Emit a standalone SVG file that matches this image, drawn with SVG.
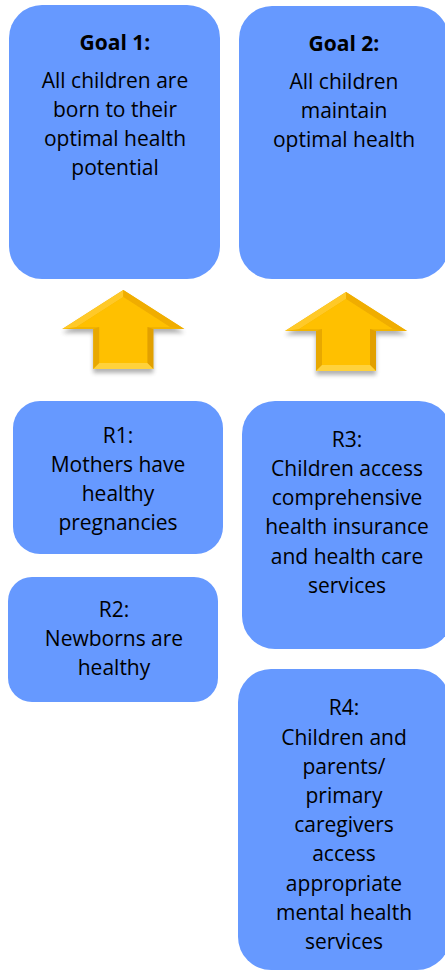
<svg xmlns="http://www.w3.org/2000/svg" width="445" height="972" viewBox="0 0 445 972">
  <style>
    .box { fill: #6699ff; }
    .t { font-family: "Open Sans", "Liberation Sans", sans-serif; font-size: 21px; fill: #000; text-anchor: middle; }
    .b { font-weight: bold; }
  </style>
  <defs>
    <filter id="sh" x="-20%" y="-20%" width="140%" height="150%">
      <feGaussianBlur stdDeviation="2"/>
    </filter>
    <g id="arrow">
      <polygon points="0,0 61,39 30,39 30,79 -30,79 -30,39 -61,39" transform="translate(0,4)" fill="#555" opacity="0.45" filter="url(#sh)"/>
      <polygon points="0,0 61,39 30,39 30,79 -30,79 -30,39 -61,39" fill="#f2b400"/>
      <polygon points="0,0 0,7.1 -46.7,37 -61,39" fill="#ffc928"/>
      <polygon points="0,0 61,39 46.7,37 0,7.1" fill="#f0ad00"/>
      <polygon points="30,39 30,79 24,73 24,37" fill="#e2a000"/>
      <polygon points="-30,39 -30,79 -24,73 -24,37" fill="#e8a800"/>
      <polygon points="30,79 -30,79 -24,73 24,73" fill="#ffd23c"/>
      <polygon points="0,7.1 46.7,37 24,37 24,73 -24,73 -24,37 -46.7,37" fill="#ffc000"/>
    </g>
  </defs>

  <g id="connectors">
    <use href="#arrow" transform="translate(123.3,290)"/>
    <use href="#arrow" transform="translate(346,292)"/>
  </g>

  <g id="goal1">
    <rect class="box" x="9" y="5" width="211" height="274" rx="33"/>
    <text class="t b" x="115" y="50">Goal 1:</text>
    <text class="t" x="115" y="88">All children are</text>
    <text class="t" x="115" y="117">born to their</text>
    <text class="t" x="115" y="146">optimal health</text>
    <text class="t" x="115" y="175">potential</text>
  </g>

  <g id="goal2">
    <rect class="box" x="239" y="6" width="210" height="273" rx="33"/>
    <text class="t b" x="344" y="51">Goal 2:</text>
    <text class="t" x="344" y="89">All children</text>
    <text class="t" x="344" y="118">maintain</text>
    <text class="t" x="344" y="147">optimal health</text>
  </g>

  <g id="r1">
    <rect class="box" x="13" y="401" width="210" height="153" rx="27"/>
    <text class="t" x="118" y="443">R1:</text>
    <text class="t" x="118" y="472">Mothers have</text>
    <text class="t" x="118" y="501">healthy</text>
    <text class="t" x="118" y="530">pregnancies</text>
  </g>

  <g id="r2">
    <rect class="box" x="8" y="577" width="210" height="125" rx="24"/>
    <text class="t" x="114" y="617">R2:</text>
    <text class="t" x="114" y="646">Newborns are</text>
    <text class="t" x="114" y="675">healthy</text>
  </g>

  <g id="r3">
    <rect class="box" x="242" y="401" width="210" height="248" rx="33"/>
    <text class="t" x="347" y="447">R3:</text>
    <text class="t" x="347" y="476">Children access</text>
    <text class="t" x="347" y="505">comprehensive</text>
    <text class="t" x="347" y="534">health insurance</text>
    <text class="t" x="347" y="564">and health care</text>
    <text class="t" x="347" y="593">services</text>
  </g>

  <g id="r4">
    <rect class="box" x="238" y="669" width="212" height="301" rx="33"/>
    <text class="t" x="344" y="715">R4:</text>
    <text class="t" x="344" y="745">Children and</text>
    <text class="t" x="344" y="774">parents/</text>
    <text class="t" x="344" y="803">primary</text>
    <text class="t" x="344" y="832">caregivers</text>
    <text class="t" x="344" y="861">access</text>
    <text class="t" x="344" y="891">appropriate</text>
    <text class="t" x="344" y="920">mental health</text>
    <text class="t" x="344" y="949">services</text>
  </g>
</svg>
